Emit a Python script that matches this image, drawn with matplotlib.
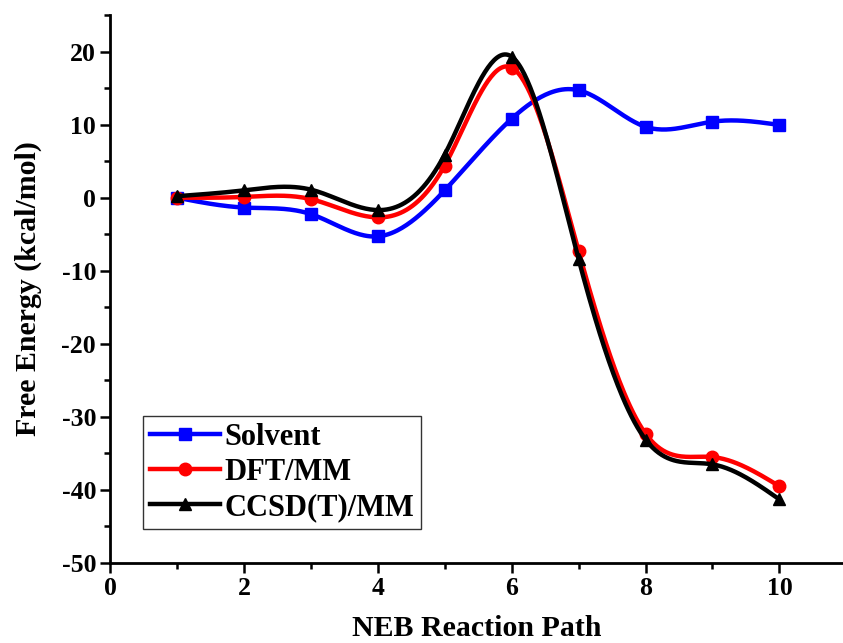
import numpy as np
import matplotlib
matplotlib.use("Agg")
import matplotlib.pyplot as plt
from matplotlib.ticker import MultipleLocator

x_path = [1, 2, 3, 4, 5, 6, 7, 8, 9, 10]
solvent = [0.0, -1.35, -2.25, -5.3, 1.0, 10.8, 14.7, 9.7, 10.4, 9.95]
dft_mm = [0.0, 0.1, -0.2, -2.7, 4.4, 17.8, -7.3, -32.3, -35.5, -39.5]
ccsd_mm = [0.2, 1.0, 1.1, -1.7, 5.9, 19.3, -8.4, -33.1, -36.5, -41.3]

labels = ["Solvent", "DFT/MM", "CCSD(T)/MM"]
colors = ["#0000ff", "#ff0000", "#000000"]
markers = ["s", "o", "^"]

xlabel = "NEB Reaction Path"
ylabel = "Free Energy (kcal/mol)"


def natural_spline(x, y, n=400):
    x = np.asarray(x, float)
    y = np.asarray(y, float)
    m = len(x)
    h = np.diff(x)
    A = np.zeros((m, m))
    b = np.zeros(m)
    A[0, 0] = 1
    A[-1, -1] = 1
    for i in range(1, m - 1):
        A[i, i - 1] = h[i - 1]
        A[i, i] = 2 * (h[i - 1] + h[i])
        A[i, i + 1] = h[i]
        b[i] = 6 * ((y[i + 1] - y[i]) / h[i] - (y[i] - y[i - 1]) / h[i - 1])
    M = np.linalg.solve(A, b)
    xs = np.linspace(x[0], x[-1], n)
    idx = np.clip(np.searchsorted(x, xs) - 1, 0, m - 2)
    x0 = x[idx]; x1 = x[idx + 1]; hh = x1 - x0
    ys = (M[idx] * (x1 - xs) ** 3 / (6 * hh) + M[idx + 1] * (xs - x0) ** 3 / (6 * hh)
          + (y[idx] / hh - M[idx] * hh / 6) * (x1 - xs)
          + (y[idx + 1] / hh - M[idx + 1] * hh / 6) * (xs - x0))
    return xs, ys


plt.rcParams['font.family'] = ['Liberation Serif', 'DejaVu Serif']
plt.rcParams['font.weight'] = 'bold'
plt.rcParams['axes.unicode_minus'] = False

fig = plt.figure(figsize=(8.43, 6.43), dpi=100)
ax = fig.add_axes([110 / 843, 80 / 643, 1 - 110 / 843, (563 - 15) / 643])

for xs_, ys_, c, mk, lab in zip([x_path] * 3, [solvent, dft_mm, ccsd_mm], colors, markers, labels):
    sx, sy = natural_spline(xs_, ys_)
    ax.plot(sx, sy, color=c, lw=3.2, solid_capstyle='round')
    ax.plot(xs_, ys_, linestyle='none', marker=mk, color=c, markersize=9)
    ax.plot([], [], color=c, lw=3.2, marker=mk, markersize=9, label=lab)

ax.set_xlim(0, 10.95)
ax.set_ylim(-50, 25)
ax.xaxis.set_major_locator(MultipleLocator(2))
ax.xaxis.set_minor_locator(MultipleLocator(1))
ax.yaxis.set_major_locator(MultipleLocator(10))
ax.yaxis.set_minor_locator(MultipleLocator(5))

for s in ['top', 'right']:
    ax.spines[s].set_visible(False)
for s in ['left', 'bottom']:
    ax.spines[s].set_linewidth(2)

ax.tick_params(which='major', direction='out', length=7, width=1.8, labelsize=18.5, pad=3)
ax.tick_params(which='minor', direction='out', length=4.5, width=1.8)
for t in ax.get_xticklabels() + ax.get_yticklabels():
    t.set_fontweight('bold')

ax.set_xlabel(xlabel, fontsize=21.5, fontweight='bold', labelpad=11)
ax.set_ylabel(ylabel, fontsize=21.5, fontweight='bold', labelpad=14)

leg = ax.legend(loc='upper left', bbox_to_anchor=(33 / 733, (563 - 416) / 548),
                fontsize=22, frameon=True, fancybox=False, edgecolor='black',
                handlelength=2.3, handletextpad=0.15, borderpad=0.22,
                labelspacing=0.2, borderaxespad=0)
leg.get_frame().set_linewidth(1.0)
for t in leg.get_texts():
    t.set_fontweight('bold')

fig.savefig("out.png", dpi=100)
